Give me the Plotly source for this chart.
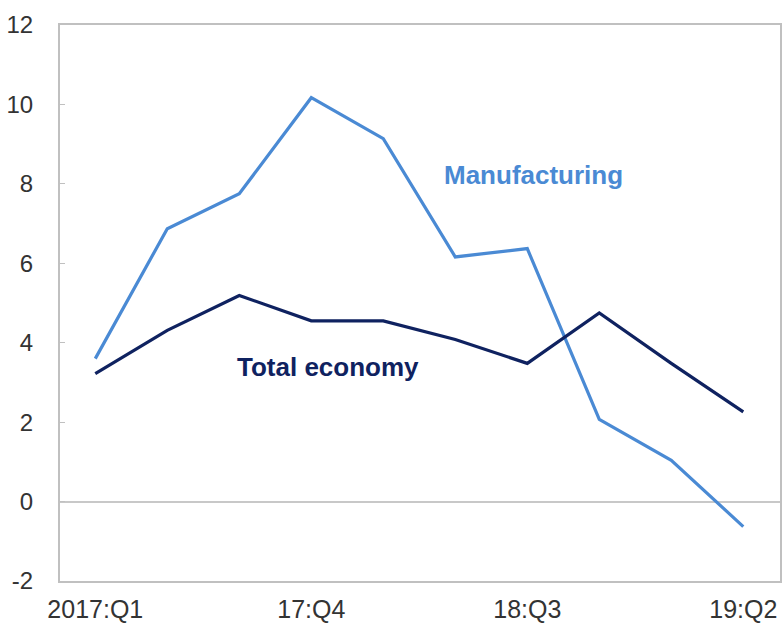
import plotly.graph_objects as go

quarters = ["2017:Q1", "2017:Q2", "2017:Q3", "2017:Q4", "2018:Q1", "2018:Q2",
            "2018:Q3", "2018:Q4", "2019:Q1", "2019:Q2"]
manufacturing = [3.60, 6.87, 7.75, 10.17, 9.14, 6.16, 6.37, 2.07, 1.04, -0.63]
total_economy = [3.22, 4.31, 5.19, 4.55, 4.55, 4.08, 3.48, 4.75, 3.48, 2.26]
x_tick_vals = ["2017:Q1", "2017:Q4", "2018:Q3", "2019:Q2"]
x_tick_text = ["2017:Q1", "17:Q4", "18:Q3", "19:Q2"]
y_tick_vals = [-2, 0, 2, 4, 6, 8, 10, 12]
y_tick_text = ["-2", "0", "2", "4", "6", "8", "10", "12"]

MANU_COLOR = "#4a8ad4"
TOTAL_COLOR = "#0f2260"

fig = go.Figure()
fig.add_trace(go.Scatter(x=quarters, y=manufacturing, mode="lines",
                         line=dict(color=MANU_COLOR, width=3.2), name="Manufacturing"))
fig.add_trace(go.Scatter(x=quarters, y=total_economy, mode="lines",
                         line=dict(color=TOTAL_COLOR, width=3.2), name="Total economy"))

fig.add_annotation(x=6.08, y=8.22, xref="x", yref="y", text="<b>Manufacturing</b>",
                   showarrow=False, font=dict(family="Liberation Sans, Arial", size=26, color=MANU_COLOR))
fig.add_annotation(x=3.23, y=3.4, xref="x", yref="y", text="<b>Total economy</b>",
                   showarrow=False, font=dict(family="Liberation Sans, Arial", size=26, color=TOTAL_COLOR))

fig.update_layout(
    width=782, height=625,
    margin=dict(l=60, r=2, t=25, b=44),
    paper_bgcolor="white", plot_bgcolor="white",
    showlegend=False,
    font=dict(family="Liberation Sans, Arial", size=24, color="#333333"),
)
fig.update_xaxes(
    type="category", categoryorder="array", categoryarray=quarters,
    range=[-0.49, 9.51],
    tickvals=x_tick_vals, ticktext=x_tick_text,
    showgrid=False, showline=True, linecolor="#c0c0c0", linewidth=2, mirror=True,
    ticks="", ticklabelstandoff=5, automargin=False,
    tickfont=dict(family="Liberation Sans, Arial", size=25, color="#333333"),
)
fig.update_yaxes(
    range=[-2, 12], tickvals=y_tick_vals, ticktext=y_tick_text,
    showgrid=False, showline=True, linecolor="#c0c0c0", linewidth=2, mirror=True,
    ticks="inside", ticklen=5, tickcolor="#c0c0c0",
    zeroline=True, zerolinecolor="#c8c8c8", zerolinewidth=1.5,
    ticklabelstandoff=20, automargin=False,
    tickfont=dict(family="Liberation Sans, Arial", size=24, color="#333333"),
)

fig.write_html("out.html",
               config={"displayModeBar": False},
               post_script="document.body.style.margin='0px';document.body.style.overflow='hidden';")
